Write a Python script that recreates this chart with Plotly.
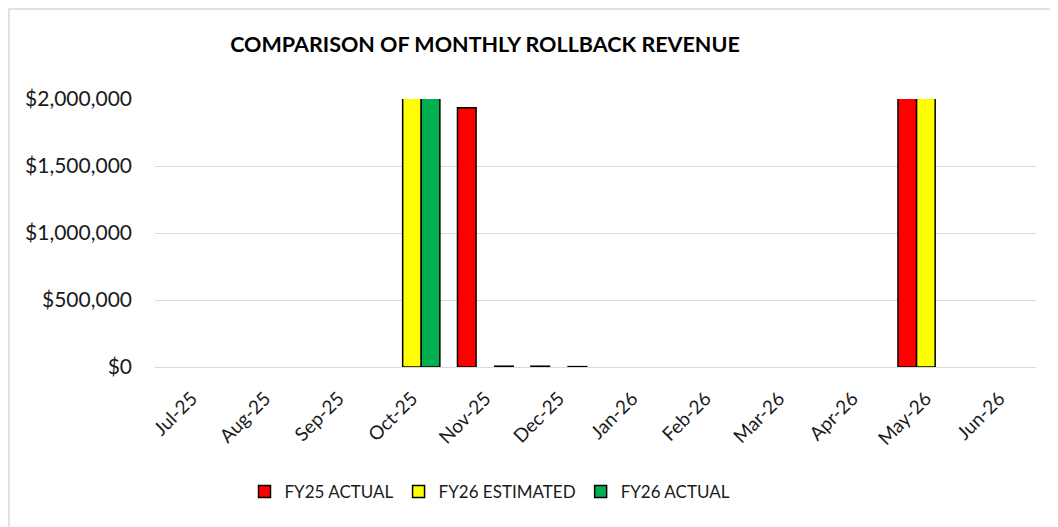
import plotly.graph_objects as go

months = ["Jul-25", "Aug-25", "Sep-25", "Oct-25", "Nov-25", "Dec-25",
          "Jan-26", "Feb-26", "Mar-26", "Apr-26", "May-26", "Jun-26"]
fy25_actual = [None, None, None, None, 1935000, 6000, None, None, None, None, 2600000, None]
fy26_estimated = [None, None, None, 2600000, None, None, None, None, None, None, 2600000, None]
fy26_actual = [None, None, None, 2600000, 6000, 3000, None, None, None, None, None, None]
y_ticks = [0, 500000, 1000000, 1500000, 2000000]

FONT = "Lato, 'Open Sans', sans-serif"
W, H = 1058, 527
OFF = 8  # page body margin
L, R, T, B = 155 - OFF, 22 + OFF, 99 - OFF, 160 + OFF
pw = W - L - R
ph = H - T - B

fig = go.Figure()
series = [("FY25 ACTUAL", fy25_actual, "#FF0000"),
          ("FY26 ESTIMATED", fy26_estimated, "#FFFF00"),
          ("FY26 ACTUAL", fy26_actual, "#00B050")]
for name, vals, col in series:
    fig.add_trace(go.Bar(x=months, y=vals, name=name,
                         marker=dict(color=col, line=dict(color="#000000", width=1.5))))

fig.update_layout(
    width=W, height=H,
    margin=dict(l=L, r=R, t=T, b=B),
    paper_bgcolor="white", plot_bgcolor="white",
    barmode="group", bargap=0.24, bargroupgap=0,
    font=dict(family=FONT, color="#1a1a1a"),
    title=dict(text="<b>COMPARISON OF MONTHLY ROLLBACK REVENUE</b>",
               font=dict(family=FONT, size=21.5, color="#000000"),
               xref="paper", x=(485 - OFF - L) / pw, xanchor="center",
               yref="container", y=1 - (44 - OFF) / H, yanchor="middle"),
    legend=dict(orientation="h", xanchor="center", x=(490 - OFF - L) / pw,
                yanchor="middle", y=-(492 - 367) / ph,
                font=dict(family=FONT, size=17, color="#1a1a1a"),
                itemclick=False),
    showlegend=True,
)
fig.update_yaxes(range=[0, 2000000], tickvals=y_ticks, tickformat="$,.0f",
                 showgrid=True, gridcolor="#D9D9D9", gridwidth=1,
                 zeroline=True, zerolinecolor="#D9D9D9", zerolinewidth=1,
                 showline=False, ticks="", ticklabelstandoff=22,
                 tickfont=dict(family=FONT, size=21, color="#1a1a1a"))
fig.update_xaxes(tickangle=-45, showgrid=False, showline=True, linecolor="#D9D9D9",
                 ticks="", ticklabelstandoff=12,
                 tickfont=dict(family=FONT, size=19, color="#1a1a1a"))

fig.add_shape(type="rect", xref="paper", yref="paper",
              x0=(1 - L) / pw, x1=1.2, y0=-0.8, y1=(T + ph - 1) / ph,
              line=dict(color="#D9D9D9", width=1.5), fillcolor="rgba(0,0,0,0)", layer="below")

fig.write_html("out.html")
